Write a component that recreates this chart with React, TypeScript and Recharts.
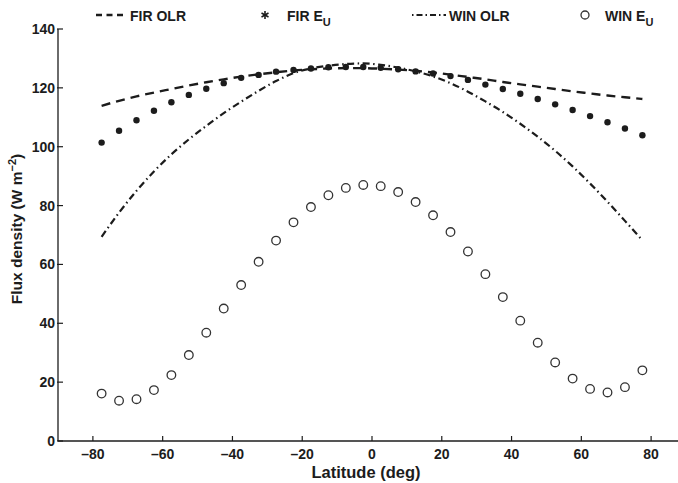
import { ComposedChart, Line, XAxis, YAxis } from 'recharts';

// Zonal-mean flux density by latitude band (5-degree bins)
const LATITUDES = [
  -77.5, -72.5, -67.5, -62.5, -57.5, -52.5, -47.5, -42.5, -37.5, -32.5, -27.5, -22.5, -17.5, -12.5, -7.5, -2.5,
  2.5, 7.5, 12.5, 17.5, 22.5, 27.5, 32.5, 37.5, 42.5, 47.5, 52.5, 57.5, 62.5, 67.5, 72.5, 77.5,
];
const FIR_OLR = [
  113.9, 115.6, 117.1, 118.4, 119.6, 120.8, 121.9, 122.9, 123.8, 124.6, 125.3, 125.9, 126.3, 126.6, 126.7, 126.7,
  126.5, 126.2, 125.8, 125.2, 124.5, 123.7, 122.9, 122.0, 121.2, 120.4, 119.6, 118.8, 118.1, 117.4, 116.8, 116.2,
];
const FIR_EU = [
  101.4, 105.4, 109.0, 112.2, 115.1, 117.6, 119.7, 121.6, 123.4, 124.4, 125.5, 126.1, 126.6, 127.0, 127.1, 127.1,
  126.8, 126.3, 125.6, 124.9, 124.0, 122.7, 121.1, 119.6, 118.0, 116.2, 114.4, 112.5, 110.4, 108.3, 106.2, 103.9,
];
const WIN_OLR = [
  69.4, 77.6, 85.0, 91.6, 97.4, 102.5, 107.1, 111.4, 115.3, 119.0, 122.3, 125.0, 126.6, 127.5, 128.1, 128.3,
  127.8, 126.9, 125.6, 123.9, 121.6, 118.7, 115.4, 111.8, 107.8, 103.4, 98.6, 93.3, 87.5, 81.3, 74.8, 68.2,
];
const WIN_EU = [
  16.1, 13.7, 14.2, 17.3, 22.4, 29.2, 36.8, 45.0, 53.0, 60.9, 68.1, 74.3, 79.5, 83.5, 86.0, 87.0,
  86.6, 84.6, 81.2, 76.7, 71.0, 64.4, 56.7, 48.9, 40.9, 33.4, 26.7, 21.2, 17.7, 16.5, 18.3, 24.0,
];
const X_TICKS = [-80, -60, -40, -20, 0, 20, 40, 60, 80];
const Y_TICKS = [0, 20, 40, 60, 80, 100, 120, 140];

const data = LATITUDES.map((lat, i) => ({
  lat,
  firOlr: FIR_OLR[i],
  firEu: FIR_EU[i],
  winOlr: WIN_OLR[i],
  winEu: WIN_EU[i],
}));

const INK = '#1c1c1c';
const FONT = '"Liberation Sans", Arial, Helvetica, sans-serif';
const fmt = (v: number) => (v < 0 ? '\u2013' + Math.abs(v) : String(v));

// ticks point inward, labels sit outside the frame
const BottomTick = ({ x, y, payload }: any) => (
  <g>
    <line x1={x} x2={x} y1={y} y2={y - 5} stroke={INK} strokeWidth={1.2} />
    <text x={x} y={y + 18} textAnchor="middle" fill={INK} fontFamily={FONT} fontWeight="bold" fontSize={14}>
      {fmt(payload.value)}
    </text>
  </g>
);

const TopTick = ({ x, y }: any) => <line x1={x} x2={x} y1={y} y2={y + 5} stroke={INK} strokeWidth={1.2} />;

const LeftTick = ({ x, y, payload }: any) => (
  <g>
    <line x1={x - 1} x2={x + 5} y1={y} y2={y} stroke={INK} strokeWidth={1.2} />
    <text x={x - 3} y={y + 5} textAnchor="end" fill={INK} fontFamily={FONT} fontWeight="bold" fontSize={14}>
      {payload.value}
    </text>
  </g>
);

const FilledDot = ({ cx, cy, index }: any) => <circle key={'f' + index} cx={cx} cy={cy} r={3.2} fill={INK} />;

const OpenDot = ({ cx, cy, index }: any) => (
  <circle key={'o' + index} cx={cx} cy={cy} r={4.3} fill="none" stroke="#333" strokeWidth={1.3} />
);

const XTitle = ({ viewBox }: any) => (
  <text
    x={viewBox.x + viewBox.width / 2 - 6}
    y={viewBox.y + 37}
    textAnchor="middle"
    fill={INK}
    fontFamily={FONT}
    fontWeight="bold"
    fontSize={16.5}
  >
    Latitude (deg)
  </text>
);

const YTitle = () => (
  <text
    x={22}
    y={229}
    transform="rotate(-90, 22, 229)"
    textAnchor="middle"
    fill={INK}
    fontFamily={FONT}
    fontWeight="bold"
    fontSize={15.5}
  >
    Flux density (W m
    <tspan dy={-6} fontSize={11}>
      {'\u22122'}
    </tspan>
    <tspan dy={6}>)</tspan>
  </text>
);

function LegendRow() {
  const text = { fill: INK, fontFamily: FONT, fontWeight: 'bold' as const, fontSize: 14 };
  return (
    <svg width={678} height={30} style={{ position: 'absolute', left: 0, top: 0 }}>
      <line x1={96} x2={127} y1={15} y2={15} stroke={INK} strokeWidth={2.4} strokeDasharray="6 4.5" />
      <text x={130} y={21} {...text}>FIR OLR</text>

      <g stroke={INK} strokeWidth={1.6}>
        <line x1={265} x2={265} y1={11} y2={19} />
        <line x1={261.5} x2={268.5} y1={13} y2={17} />
        <line x1={261.5} x2={268.5} y1={17} y2={13} />
      </g>
      <text x={287} y={21} {...text}>
        FIR E<tspan dy={5} fontSize={11}>U</tspan>
      </text>

      <line x1={412} x2={446} y1={15} y2={15} stroke={INK} strokeWidth={2} strokeDasharray="1.5 3 6 3" />
      <text x={449} y={21} {...text}>WIN OLR</text>

      <circle cx={585} cy={15} r={4} fill="none" stroke="#333" strokeWidth={1.3} />
      <text x={605} y={21} {...text}>
        WIN E<tspan dy={5} fontSize={11}>U</tspan>
      </text>
    </svg>
  );
}

export default function App() {
  return (
    <div
      style={{
        position: 'fixed',
        left: 0,
        top: 0,
        width: 678,
        height: 483,
        overflow: 'hidden',
        background: '#fff',
      }}
    >
      <ComposedChart width={700} height={483} data={data} margin={{ top: 29, right: 14, left: 0, bottom: 0 }}>
        <XAxis
          dataKey="lat"
          type="number"
          domain={[-90, 90]}
          ticks={X_TICKS}
          height={42}
          tickSize={0}
          tickMargin={0}
          tickLine={false}
          tick={BottomTick}
          axisLine={{ stroke: INK, strokeWidth: 1.3 }}
          label={XTitle}
        />
        <XAxis
          xAxisId="top"
          orientation="top"
          type="number"
          domain={[-90, 90]}
          ticks={X_TICKS}
          height={0}
          tickSize={0}
          tickMargin={0}
          tickLine={false}
          tick={TopTick}
          axisLine={{ stroke: INK, strokeWidth: 1.3 }}
        />
        <YAxis
          type="number"
          domain={[0, 140]}
          ticks={Y_TICKS}
          width={58}
          tickSize={0}
          tickMargin={0}
          tickLine={false}
          tick={LeftTick}
          axisLine={{ stroke: INK, strokeWidth: 1.3 }}
          label={YTitle}
        />
        <Line
          dataKey="firOlr"
          type="monotone"
          stroke={INK}
          strokeWidth={2.4}
          strokeDasharray="9 6"
          dot={false}
          activeDot={false}
          isAnimationActive={false}
        />
        <Line
          dataKey="winOlr"
          type="monotone"
          stroke={INK}
          strokeWidth={2.2}
          strokeDasharray="7 3.5 1.5 3.5"
          dot={false}
          activeDot={false}
          isAnimationActive={false}
        />
        <Line dataKey="firEu" stroke="none" dot={FilledDot} activeDot={false} isAnimationActive={false} />
        <Line dataKey="winEu" stroke="none" dot={OpenDot} activeDot={false} isAnimationActive={false} />
      </ComposedChart>
      <LegendRow />
    </div>
  );
}
